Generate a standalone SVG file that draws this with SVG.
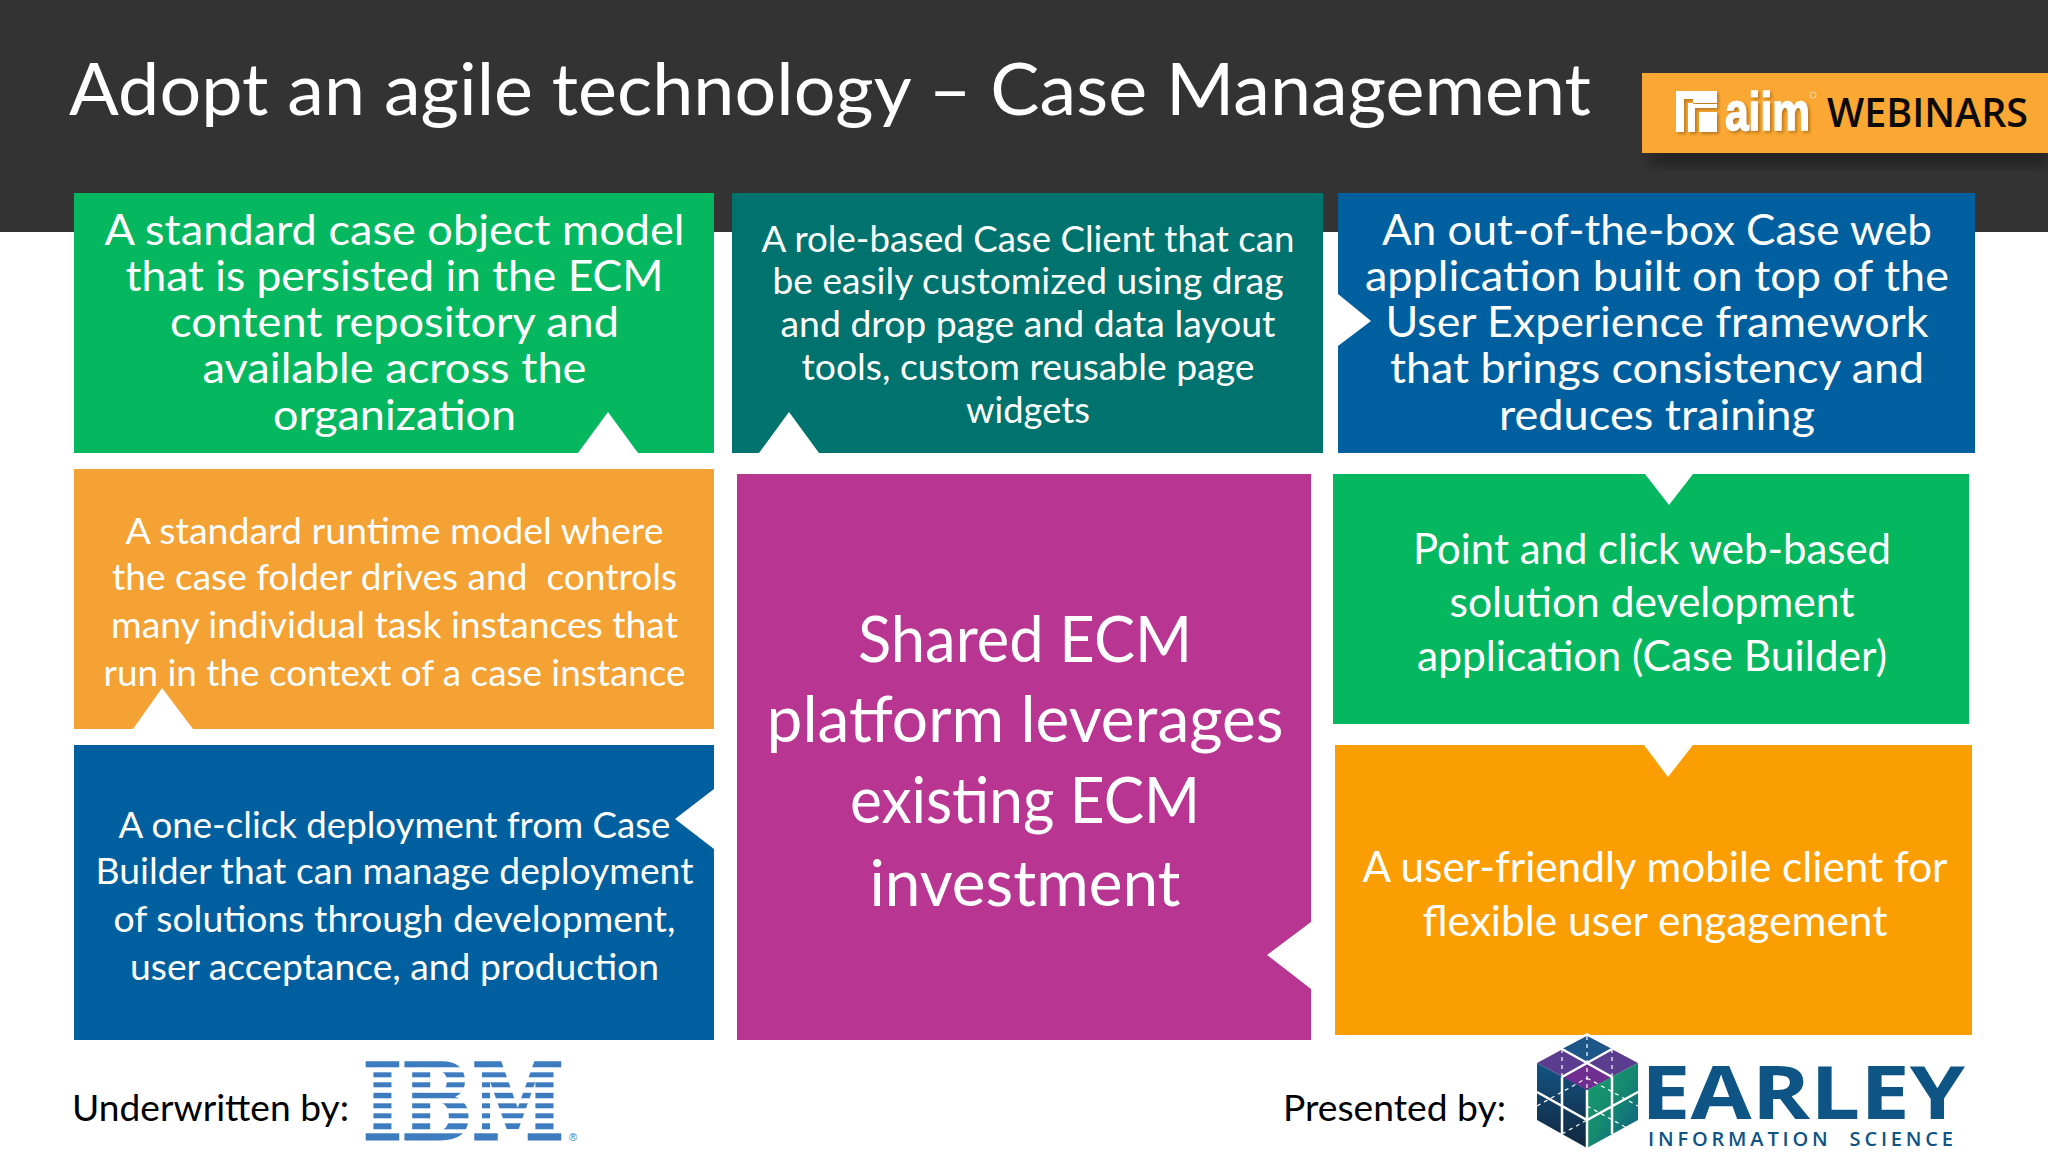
<svg xmlns="http://www.w3.org/2000/svg" width="2048" height="1152" viewBox="0 0 2048 1152">
<style>
text{font-family:"Lato","Carlito","Open Sans",sans-serif;fill:#fff;text-anchor:middle}
.s40{font-size:43px}.s35{font-size:37px}.s34{font-size:36px}.s59{font-size:63px}
.k{fill:#000;text-anchor:start;font-size:37px}
</style>
<defs><filter id="blur" x="-10%" y="-50%" width="120%" height="200%"><feGaussianBlur stdDeviation="7"/></filter>
<filter id="soft" x="-10%" y="-10%" width="120%" height="120%"><feDropShadow dx="2" dy="2" stdDeviation="1.5" flood-color="#8a5a10" flood-opacity=".6"/></filter>
<linearGradient id="left" x1="0" y1="0" x2="0" y2="1"><stop offset="0" stop-color="#135484"/><stop offset="1" stop-color="#12263c"/></linearGradient>
<linearGradient id="right" x1="0" y1="0" x2="1" y2="1"><stop offset="0" stop-color="#17a06c"/><stop offset=".5" stop-color="#15896f"/><stop offset="1" stop-color="#105a88"/></linearGradient>
</defs>
<rect width="2048" height="1152" fill="#fff"/>
<g id="header">
<rect width="2048" height="232" fill="#333333"/>
<text x="69" y="115" font-size="72" textLength="1522" lengthAdjust="spacingAndGlyphs" style="text-anchor:start">Adopt an agile technology – Case Management</text>
</g>
<g id="aiim-badge">
<rect x="1650" y="150" width="398" height="14" fill="#000" opacity=".4" filter="url(#blur)"/>
<rect x="1642" y="73" width="406" height="80" fill="#fba733"/>
<g filter="url(#soft)">
<path fill="#fff" fill-rule="evenodd" d="M1676 91H1717V104H1693V99H1684V132H1676ZM1688 103H1717V108H1695V132H1688ZM1699 112H1717V132H1699Z"/>
<text x="1725" y="130" font-size="54" font-weight="700" stroke="#fff" stroke-width="1.5" textLength="85" lengthAdjust="spacingAndGlyphs" style="font-family:'Liberation Sans',sans-serif;text-anchor:start">aiim</text>
</g>
<circle cx="1813" cy="95" r="3" fill="none" stroke="#f6dcb0" stroke-width="1"/>
<text x="1827" y="127" font-size="39" font-weight="600" textLength="201" lengthAdjust="spacingAndGlyphs" style="fill:#0c0a06;font-family:'Open Sans',sans-serif;text-anchor:start">WEBINARS</text>
</g>
<g id="connectors"></g>
<g id="node-object-model">
<path fill="#05b85f" d="M74 193H714V453H638L608 412L578 453H74Z"/>
<text class="s40" x="394.5" y="245" textLength="580" lengthAdjust="spacingAndGlyphs">A standard case object model</text>
<text class="s40" x="394.5" y="291" textLength="538" lengthAdjust="spacingAndGlyphs">that is persisted in the ECM</text>
<text class="s40" x="394.5" y="337" textLength="449" lengthAdjust="spacingAndGlyphs">content repository and</text>
<text class="s40" x="394.5" y="383" textLength="384" lengthAdjust="spacingAndGlyphs">available across the</text>
<text class="s40" x="394.5" y="430" textLength="243" lengthAdjust="spacingAndGlyphs">organization</text>
</g>
<g id="node-case-client">
<path fill="#00736e" d="M732 193H1323V453H819L789 412L759 453H732Z"/>
<text class="s34" x="1028" y="252" textLength="533" lengthAdjust="spacingAndGlyphs">A role-based Case Client that can</text>
<text class="s34" x="1028" y="294" textLength="511" lengthAdjust="spacingAndGlyphs">be easily customized using drag</text>
<text class="s34" x="1028" y="337" textLength="495" lengthAdjust="spacingAndGlyphs">and drop page and data layout</text>
<text class="s34" x="1028" y="380" textLength="453" lengthAdjust="spacingAndGlyphs">tools, custom reusable page</text>
<text class="s34" x="1028" y="423" textLength="124" lengthAdjust="spacingAndGlyphs">widgets</text>
</g>
<g id="node-web-app">
<path fill="#00609f" d="M1338 193H1975V453H1338V346L1371 321L1338 294Z"/>
<text class="s40" x="1657" y="245" textLength="550" lengthAdjust="spacingAndGlyphs">An out-of-the-box Case web</text>
<text class="s40" x="1657" y="291" textLength="584" lengthAdjust="spacingAndGlyphs">application built on top of the</text>
<text class="s40" x="1657" y="337" textLength="543" lengthAdjust="spacingAndGlyphs">User Experience framework</text>
<text class="s40" x="1657" y="383" textLength="534" lengthAdjust="spacingAndGlyphs">that brings consistency and</text>
<text class="s40" x="1657" y="430" textLength="316" lengthAdjust="spacingAndGlyphs">reduces training</text>
</g>
<g id="node-runtime-model">
<path fill="#f4a233" d="M74 469H714V729H193L162 688L133 729H74Z"/>
<text class="s35" x="394.5" y="544" textLength="538" lengthAdjust="spacingAndGlyphs">A standard runtime model where</text>
<text class="s35" x="394.5" y="590" textLength="565" lengthAdjust="spacingAndGlyphs" xml:space="preserve">the case folder drives and  controls</text>
<text class="s35" x="394.5" y="638" textLength="567" lengthAdjust="spacingAndGlyphs">many individual task instances that</text>
<text class="s35" x="394.5" y="686" textLength="582" lengthAdjust="spacingAndGlyphs">run in the context of a case instance</text>
</g>
<g id="node-deployment">
<path fill="#00609f" d="M74 745H714V789L675 819L714 849V1040H74Z"/>
<text class="s35" x="394.5" y="838" textLength="552" lengthAdjust="spacingAndGlyphs">A one-click deployment from Case</text>
<text class="s35" x="394.5" y="884" textLength="598" lengthAdjust="spacingAndGlyphs">Builder that can manage deployment</text>
<text class="s35" x="394.5" y="932" textLength="562" lengthAdjust="spacingAndGlyphs">of solutions through development,</text>
<text class="s35" x="394.5" y="980" textLength="529" lengthAdjust="spacingAndGlyphs">user acceptance, and production</text>
</g>
<g id="node-shared-ecm">
<path fill="#b93592" d="M737 474H1311V922L1267 955L1311 989V1040H737Z"/>
<text class="s59" x="1025" y="662" textLength="334" lengthAdjust="spacingAndGlyphs">Shared ECM</text>
<text class="s59" x="1025" y="742" textLength="517" lengthAdjust="spacingAndGlyphs">platform leverages</text>
<text class="s59" x="1025" y="823" textLength="350" lengthAdjust="spacingAndGlyphs">existing ECM</text>
<text class="s59" x="1025" y="906" textLength="311" lengthAdjust="spacingAndGlyphs">investment</text>
</g>
<g id="node-case-builder">
<path fill="#05b85f" d="M1333 474H1645L1669 505L1693 474H1969V724H1333Z"/>
<text class="s40" x="1652" y="564" textLength="478" lengthAdjust="spacingAndGlyphs">Point and click web-based</text>
<text class="s40" x="1652" y="617" textLength="405" lengthAdjust="spacingAndGlyphs">solution development</text>
<text class="s40" x="1652" y="671" textLength="470" lengthAdjust="spacingAndGlyphs">application (Case Builder)</text>
</g>
<g id="node-mobile-client">
<path fill="#fb9e04" d="M1335 745H1644L1668 777L1693 745H1972V1035H1335Z"/>
<text class="s40" x="1655" y="882" textLength="585" lengthAdjust="spacingAndGlyphs">A user-friendly mobile client for</text>
<text class="s40" x="1655" y="936" textLength="465" lengthAdjust="spacingAndGlyphs">flexible user engagement</text>
</g>
<g id="underwritten">
<text class="k" x="72" y="1121" textLength="277" lengthAdjust="spacingAndGlyphs">Underwritten by:</text>
<text x="363" y="1139" font-size="105" font-weight="700" stroke="#3e7cc0" stroke-width="3" textLength="201" lengthAdjust="spacingAndGlyphs" style="font-family:'DejaVu Serif',serif;fill:#3e7cc0;text-anchor:start">IBM</text>
<g fill="#fff"><rect x="360" y="1067.3" width="208" height="5"/><rect x="360" y="1077.3" width="208" height="5"/><rect x="360" y="1087.3" width="208" height="5.5"/><rect x="360" y="1098.3" width="208" height="5"/><rect x="360" y="1108.3" width="208" height="5"/><rect x="360" y="1118.3" width="208" height="5"/><rect x="360" y="1129.3" width="208" height="4"/></g>
<text x="573" y="1141" font-size="11" style="font-family:'Liberation Sans',sans-serif;fill:#3e7cc0">®</text>
</g>
<g id="presented">
<text class="k" x="1283" y="1121" textLength="223" lengthAdjust="spacingAndGlyphs">Presented by:</text>
<polygon points="1587,1033 1641,1063 1641,1120 1587,1151 1535,1120 1535,1063" fill="#fff"/>
<polygon points="1587,1036 1638,1063 1587,1090 1537,1063" fill="#5b3d8f"/>
<polygon points="1587,1036 1612,1049 1587,1063 1562,1049" fill="#1e5688"/>
<polygon points="1587,1063 1612,1077 1587,1090 1562,1077" fill="#702e90"/>
<polygon points="1537,1063 1587,1090 1587,1148 1537,1120" fill="url(#left)"/>
<polygon points="1587,1090 1638,1063 1638,1120 1587,1148" fill="url(#right)"/>
<g stroke="#fff" stroke-width="2.5" fill="none"><path d="M1562 1049L1612 1077M1612 1049L1562 1077M1537 1092L1587 1120L1638 1092M1562 1077V1134M1612 1077V1134M1587 1090V1148"/></g>
<g stroke="#fff" stroke-width="1.2" stroke-dasharray="4 4" fill="none"><path d="M1587 1036V1090M1562 1049V1077M1612 1049V1077M1537 1106L1587 1078M1562 1134L1612 1106M1587 1106L1638 1134M1587 1078L1638 1106"/></g>
<text x="1641" y="1119" font-size="74" font-weight="700" textLength="324" lengthAdjust="spacingAndGlyphs" style="font-family:'Open Sans',sans-serif;fill:#0e5484;text-anchor:start">EARLEY</text>
<text x="1648" y="1146" font-size="20" font-weight="600" textLength="305" xml:space="preserve" style="font-family:'Open Sans',sans-serif;fill:#0e5484;text-anchor:start">INFORMATION  SCIENCE</text>
</g>
</svg>
